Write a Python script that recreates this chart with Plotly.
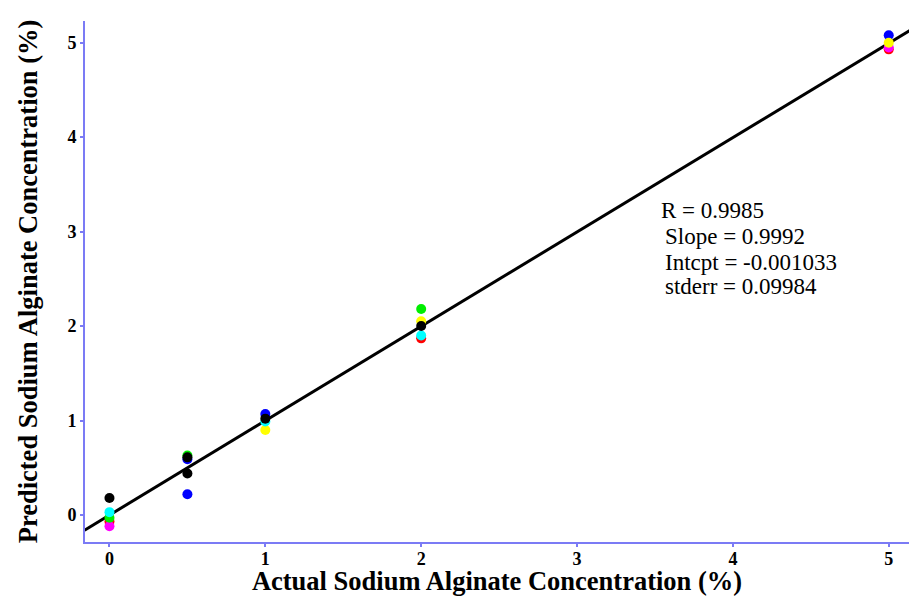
import plotly.graph_objects as go

# ---- data ----
red_x = [0, 2, 5]
red_y = [-0.07, 1.87, 4.93]
magenta_x = [0, 5]
magenta_y = [-0.12, 4.95]
green_x = [0, 0.5, 2]
green_y = [-0.03, 0.63, 2.18]
blue_x = [0.5, 0.5, 1, 5]
blue_y = [0.22, 0.59, 1.07, 5.08]
yellow_x = [1, 2, 5]
yellow_y = [0.90, 2.05, 5.00]
cyan_x = [0, 1, 2]
cyan_y = [0.03, 0.99, 1.90]
black_x = [0, 0.5, 0.5, 1, 2]
black_y = [0.18, 0.44, 0.61, 1.02, 2.00]

slope = 0.9992
intercept = -0.001033
fit_x = [-0.16, 5.14]
fit_y = [slope * v + intercept for v in fit_x]

stats_lines = ["R = 0.9985", "Slope = 0.9992", "Intcpt = -0.001033", "stderr = 0.09984"]
x_ticks = [0, 1, 2, 3, 4, 5]
y_ticks = [0, 1, 2, 3, 4, 5]

series = [
    (red_x, red_y, "#ff0000"),
    (magenta_x, magenta_y, "#ff00ff"),
    (green_x, green_y, "#00ee00"),
    (blue_x, blue_y, "#0000ff"),
    (yellow_x, yellow_y, "#ffff00"),
    (cyan_x, cyan_y, "#00ffff"),
    (black_x, black_y, "#000000"),
]

fig = go.Figure()
fig.add_trace(go.Scatter(x=fit_x, y=fit_y, mode="lines",
                         line=dict(color="black", width=3), showlegend=False))
for xs, ys, c in series:
    fig.add_trace(go.Scatter(x=xs, y=ys, mode="markers",
                             marker=dict(color=c, size=10, line=dict(width=0)),
                             showlegend=False, cliponaxis=False))

font_family = "Liberation Serif"
ann_x = [3.525, 3.55, 3.55, 3.55]
ann_y = [3.22, 2.945, 2.67, 2.415]
for i, t in enumerate(stats_lines):
    fig.add_annotation(x=ann_x[i], y=ann_y[i], xref="x", yref="y", text=t,
                       showarrow=False, xanchor="left", yanchor="middle",
                       font=dict(family=font_family, size=23, color="black"))

axis_color = "#7b7bf5"
fig.update_xaxes(range=[-0.157, 5.13], tickvals=x_ticks, showgrid=False, zeroline=False,
                 showline=True, linecolor=axis_color, linewidth=2,
                 ticks="outside", ticklen=3, tickcolor=axis_color, tickwidth=2,
                 ticklabelstandoff=-4,
                 tickfont=dict(family=font_family, size=18, color="black", weight="bold"),
                 title=dict(text="<b>Actual Sodium Alginate Concentration (%)</b>",
                            font=dict(family=font_family, size=26.5, color="black"), standoff=4))
fig.update_yaxes(range=[-0.286, 5.23], tickvals=y_ticks, showgrid=False, zeroline=False,
                 showline=True, linecolor=axis_color, linewidth=2,
                 ticks="outside", ticklen=3, tickcolor=axis_color, tickwidth=2,
                 tickfont=dict(family=font_family, size=18, color="black", weight="bold"),
                 title=dict(text="<b>Predicted Sodium Alginate Concentration (%)</b>",
                            font=dict(family=font_family, size=26.5, color="black"), standoff=22))
fig.update_layout(width=909, height=596, margin=dict(l=85, r=0, t=21, b=54),
                  plot_bgcolor="white", paper_bgcolor="white")
fig.write_html("out.html")
